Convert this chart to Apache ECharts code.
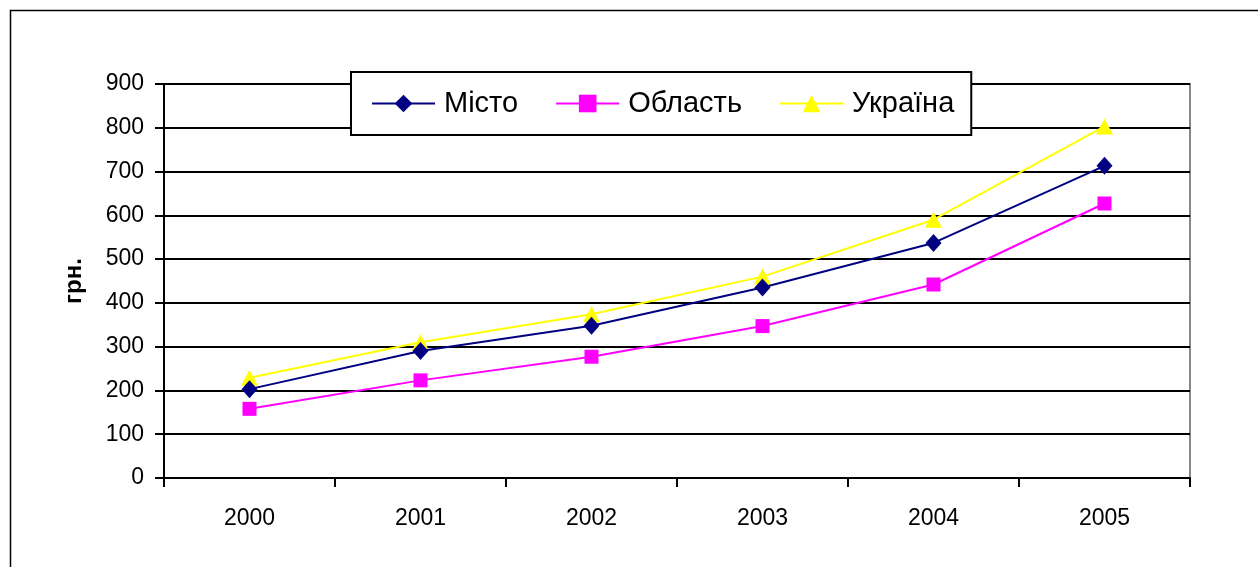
<!DOCTYPE html>
<html><head><meta charset="utf-8">
<script src="https://cdn.jsdelivr.net/npm/echarts@6/dist/echarts.min.js"></script>
<style>html,body{margin:0;padding:0;background:#fff}#c{width:1258px;height:567px}</style>
</head><body><div id="c"></div>
<script>
const years = ['2000','2001','2002','2003','2004','2005'];
const misto = [203, 290, 348, 435, 537, 713];
const oblast = [158, 223, 277, 347, 442, 627];
const ukraina = [229, 310, 374, 460, 590, 803];
const yTicks = [0, 100, 200, 300, 400, 500, 600, 700, 800, 900];

const chart = echarts.init(document.getElementById('c'));
const FONT = 'Liberation Sans, Arial, sans-serif';
chart.setOption({
  animation: false,
  backgroundColor: '#fff',
  graphic: [{type:'rect', shape:{x:10.5,y:10.5,width:1300,height:600}, style:{fill:'none', stroke:'#000', lineWidth:1.5}, z:-1}],
  grid: {left:164, right:68, top:84, bottom:89, show:true, borderColor:'#888', borderWidth:2, backgroundColor:'transparent'},
  legend: {
    left: 351, top: 72, padding:[17, 17, 17, 20],
    backgroundColor:'#fff', borderColor:'#000', borderWidth:2,
    itemWidth: 63, itemHeight: 22, itemGap: 37,
    textStyle: {fontFamily: FONT, fontSize: 29, color:'#000', padding:[2,0,0,4]},
    data: ['Місто','Область','Україна']
  },
  xAxis: {
    type:'category', data: years, boundaryGap:true,
    axisLine:{lineStyle:{color:'#000', width:2}},
    axisTick:{show:true, length:9, lineStyle:{color:'#000', width:2}},
    axisLabel:{fontFamily:FONT, fontSize:23, color:'#000', margin:29}
  },
  yAxis: {
    type:'value', min:0, max:900, interval:100,
    name:'грн.', nameLocation:'middle', nameGap:78, nameRotate:90,
    nameTextStyle:{fontFamily:FONT, fontSize:24, fontWeight:'bold', color:'#000'},
    axisLine:{show:true, lineStyle:{color:'#000', width:2}},
    axisTick:{show:true, length:9, lineStyle:{color:'#000', width:2}},
    axisLabel:{fontFamily:FONT, fontSize:23, color:'#000', margin:20,
      formatter: v => yTicks.includes(v) ? String(v) : ''},
    splitLine:{show:true, lineStyle:{color:'#000', width:2}}
  },
  series: [
    {name:'Місто', type:'line', data:misto, symbol:'diamond', symbolSize:[16,18],
     itemStyle:{color:'#000080'}, lineStyle:{color:'#000080', width:2}, z:4},
    {name:'Область', type:'line', data:oblast, symbol:'rect', symbolSize:14,
     itemStyle:{color:'#FF00FF'}, lineStyle:{color:'#FF00FF', width:2}, z:3},
    {name:'Україна', type:'line', data:ukraina, symbol:'triangle', symbolSize:[17,16],
     itemStyle:{color:'#FFFF00'}, lineStyle:{color:'#FFFF00', width:2}, z:2}
  ]
});
</script></body></html>
